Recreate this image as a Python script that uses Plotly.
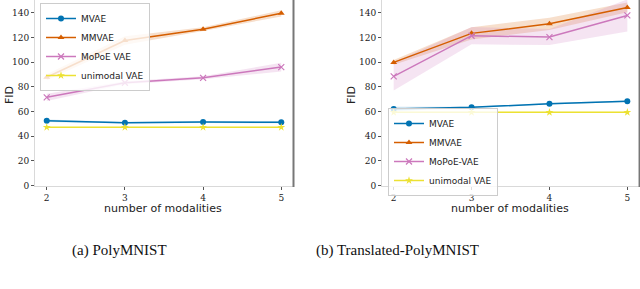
import plotly.graph_objects as go

W, H = 640, 289

modalities = [2, 3, 4, 5]
x_ticks = [2, 3, 4, 5]
y_ticks = [0, 20, 40, 60, 80, 100, 120, 140]

# (a) PolyMNIST
poly_mvae = [52.6, 51.0, 51.5, 51.3]
poly_mvae_sd = [1.0, 0.6, 0.8, 0.8]
poly_mmvae = [87.8, 117.5, 126.7, 139.5]
poly_mmvae_sd = [2.5, 3.5, 1.5, 2.5]
poly_mopoe = [71.5, 83.3, 87.3, 96.0]
poly_mopoe_sd = [3.0, 1.2, 1.2, 3.5]
poly_uni = [47.3, 47.3, 47.3, 47.3]
poly_uni_sd = [0.4, 0.4, 0.4, 0.4]

# (b) Translated-PolyMNIST
trans_mvae = [62.0, 63.4, 66.4, 68.3]
trans_mvae_sd = [1.8, 0.6, 0.6, 0.6]
trans_mmvae = [99.8, 123.3, 131.0, 144.3]
trans_mmvae_sd = [2.0, 5.0, 5.0, 4.0]
trans_mopoe = [88.5, 121.4, 120.3, 137.8]
trans_mopoe_sd = [11.5, 7.0, 6.5, 13.0]
trans_uni = [59.4, 59.4, 59.4, 59.4]
trans_uni_sd = [0.5, 0.5, 0.5, 0.5]

names_left = ["MVAE", "MMVAE", "MoPoE VAE", "unimodal VAE"]
names_right = ["MVAE", "MMVAE", "MoPoE-VAE", "unimodal VAE"]
captions = ["(a) PolyMNIST", "(b) Translated-PolyMNIST"]

colors = ["#0173b2", "#d55e00", "#cc78bc", "#ece133"]
fills = ["rgba(1,115,178,0.2)", "rgba(213,94,0,0.2)", "rgba(204,120,188,0.2)", "rgba(236,225,51,0.2)"]
symbols = ["circle", "triangle-up", "x-thin-open", "star"]
msizes = [6, 6, 6, 6]

fig = go.Figure()

def px2x(p):
    return p / W

def px2y(p):
    return 1 - p / H

panels = [
    (names_left, [poly_mvae, poly_mmvae, poly_mopoe, poly_uni],
     [poly_mvae_sd, poly_mmvae_sd, poly_mopoe_sd, poly_uni_sd], "x", "y", "legend"),
    (names_right, [trans_mvae, trans_mmvae, trans_mopoe, trans_uni],
     [trans_mvae_sd, trans_mmvae_sd, trans_mopoe_sd, trans_uni_sd], "x2", "y2", "legend2"),
]

for names, series, sds, xa, ya, lg in panels:
    for i, (nm, vals, sd) in enumerate(zip(names, series, sds)):
        lo = [v - s for v, s in zip(vals, sd)]
        hi = [v + s for v, s in zip(vals, sd)]
        fig.add_trace(go.Scatter(x=modalities, y=lo, mode="lines", line=dict(width=0),
                                 showlegend=False, hoverinfo="skip", xaxis=xa, yaxis=ya))
        fig.add_trace(go.Scatter(x=modalities, y=hi, mode="lines", line=dict(width=0),
                                 fill="tonexty", fillcolor=fills[i],
                                 showlegend=False, hoverinfo="skip", xaxis=xa, yaxis=ya))
    for i, (nm, vals) in enumerate(zip(names, series)):
        mk = dict(symbol=symbols[i], size=msizes[i], color=colors[i])
        if symbols[i] == "x-thin-open":
            mk["line"] = dict(color=colors[i], width=1.2)
        fig.add_trace(go.Scatter(x=modalities, y=vals, mode="lines+markers", name=nm,
                                 line=dict(color=colors[i], width=1.5), marker=mk,
                                 xaxis=xa, yaxis=ya, legend=lg))

xdom1 = [px2x(35), px2x(293)]
xdom2 = [px2x(382), px2x(639)]
ydom = [px2y(185.7), 1.0]

axis_common = dict(showline=True, linecolor="#d9d9d9", linewidth=1, mirror=True, automargin=False,
                   ticks="outside", ticklen=3, tickcolor="#555555", showgrid=False, zeroline=False,
                   tickfont=dict(family="DejaVu Serif", size=9, color="#222222"))

legend_common = dict(xanchor="left", yanchor="top", traceorder="normal",
                     bgcolor="rgba(255,255,255,0.8)", bordercolor="#cccccc", borderwidth=1,
                     font=dict(family="DejaVu Sans", size=9, color="#222222"),
                     tracegroupgap=0, itemwidth=30)

fig.update_layout(
    template="none",
    width=W, height=H,
    margin=dict(l=0, r=0, t=0, b=0, autoexpand=False),
    paper_bgcolor="white", plot_bgcolor="white",
    xaxis=dict(domain=xdom1, range=[1.85, 5.15], tickvals=x_ticks, anchor="y", **axis_common),
    yaxis=dict(domain=ydom, range=[0, 150.3], tickvals=y_ticks, anchor="x", **axis_common),
    xaxis2=dict(domain=xdom2, range=[1.85, 5.15], tickvals=x_ticks, anchor="y2", **axis_common),
    yaxis2=dict(domain=ydom, range=[0, 150.3], tickvals=y_ticks, anchor="x2", **axis_common),
    legend=dict(x=px2x(40), y=px2y(3), **legend_common),
    legend2=dict(x=px2x(388), y=px2y(108), **legend_common),
    showlegend=True,
)

ann = []
for cx, text in [(163, "number of modalities"), (510, "number of modalities")]:
    ann.append(dict(x=px2x(cx), y=px2y(208), xref="paper", yref="paper", text=text, showarrow=False,
                    xanchor="center", yanchor="middle",
                    font=dict(family="DejaVu Sans", size=11, color="#222222")))
for cx in [10, 352]:
    ann.append(dict(x=px2x(cx), y=px2y(95), xref="paper", yref="paper", text="FID", showarrow=False,
                    textangle=-90, xanchor="center", yanchor="middle",
                    font=dict(family="DejaVu Sans", size=11, color="#222222")))
for cx, text in [(119.5, captions[0]), (397, captions[1])]:
    ann.append(dict(x=px2x(cx), y=px2y(250), xref="paper", yref="paper", text=text, showarrow=False,
                    xanchor="center", yanchor="middle",
                    font=dict(family="Liberation Serif", size=15, color="#111111")))
fig.update_layout(annotations=ann)

fig.add_shape(type="line", xref="paper", yref="paper", x0=px2x(293.5), x1=px2x(293.5),
              y0=px2y(187), y1=1, line=dict(color="#777777", width=2))
fig.add_shape(type="line", xref="paper", yref="paper", x0=px2x(639.3), x1=px2x(639.3),
              y0=px2y(187), y1=1, line=dict(color="#777777", width=1.5))

fig.write_html("out.html", config={"displayModeBar": False},
               post_script="document.body.style.margin='0';document.body.style.padding='0';")
